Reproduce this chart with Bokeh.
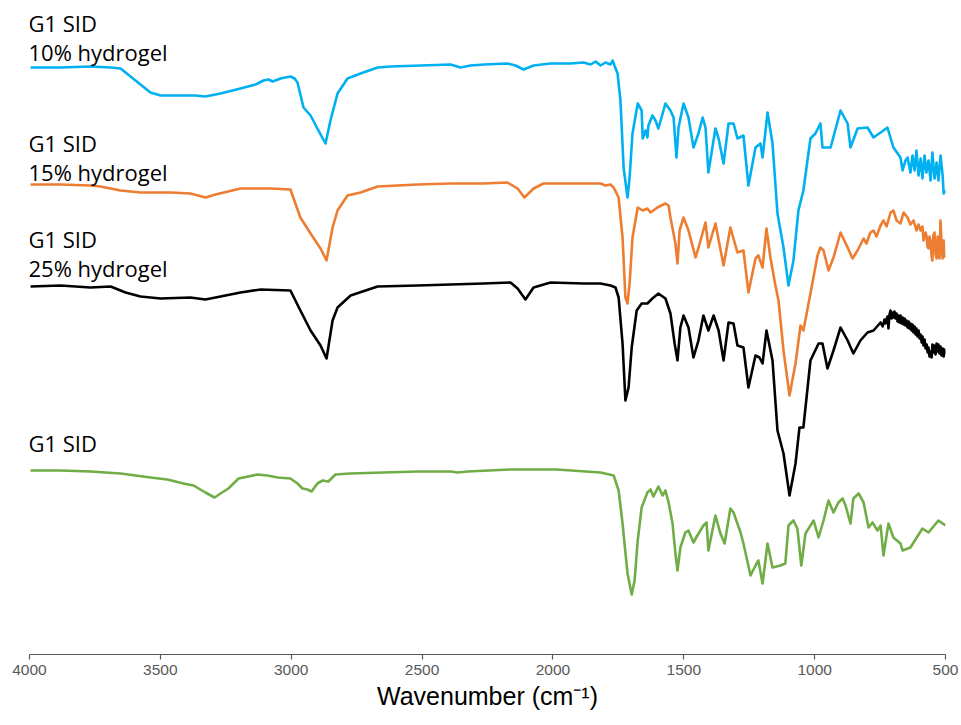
from bokeh.plotting import figure
from bokeh.models import Range1d, FixedTicker, Label
from bokeh.embed import file_html
from bokeh.resources import INLINE

# ---- data (wavenumber in cm-1, stacked intensity in arbitrary units) ----
wn_10 = [3996, 3882, 3767, 3690, 3652, 3595, 3538, 3499, 3423, 3366, 3328, 3270, 3194, 3136, 3106, 3087, 3071, 3041,
         3003, 2987, 2976, 2953, 2926, 2896, 2869, 2850, 2823, 2785, 2735, 2670, 2621, 2391, 2353, 2315, 2265, 2174,
         2143, 2112, 2074, 2009, 1933, 1883, 1856, 1837, 1818, 1799, 1780, 1772, 1765, 1753, 1742, 1730, 1715, 1707,
         1696, 1676, 1661, 1657, 1646, 1639, 1635, 1620, 1608, 1597, 1570, 1551, 1539, 1528, 1520, 1501, 1482, 1463,
         1444, 1428, 1417, 1406, 1379, 1367, 1348, 1329, 1310, 1295, 1272, 1253, 1226, 1207, 1199, 1180, 1161, 1142,
         1119, 1100, 1081, 1062, 1043, 1016, 997, 978, 970, 951, 939, 901, 874, 863, 836, 798, 775, 737, 722, 699,
         672, 664, 653, 645, 634, 626, 618, 611, 603, 595, 588, 580, 573, 565, 557, 550, 542, 534, 527, 519, 511,
         507, 500]
int_10 = [587, 587, 588, 587, 586, 574, 562, 559, 559, 559, 558, 561, 566, 570, 574, 575, 573, 576,
          578, 576, 572, 547, 539, 524, 511, 534, 561, 576, 581, 587, 588, 590, 587, 589, 590, 591,
          589, 585, 589, 591, 591, 592, 590, 593, 589, 592, 590, 594, 589, 581, 554, 487, 457, 477,
          521, 551, 544, 516, 524, 517, 529, 539, 534, 526, 551, 544, 537, 497, 527, 551, 537, 507,
          521, 537, 527, 482, 526, 516, 491, 531, 531, 516, 519, 469, 507, 511, 497, 542, 511, 441,
          407, 369, 394, 444, 464, 516, 521, 531, 507, 507, 507, 544, 531, 507, 526, 527, 517, 524, 527, 507,
          497, 484, 494, 497, 482, 499, 484, 504, 479, 496, 476, 499, 482, 494, 474, 502, 476, 492, 474, 499, 479,
          461, 464]

wn_15 = [3996, 3882, 3767, 3729, 3652, 3576, 3461, 3385, 3328, 3289, 3194, 3079, 3003, 2965, 2926, 2888, 2865, 2842,
         2823, 2785, 2735, 2670, 2517, 2391, 2265, 2174, 2135, 2109, 2074, 2036, 1944, 1818, 1799, 1780, 1768, 1749,
         1734, 1723, 1715, 1707, 1696, 1676, 1657, 1639, 1627, 1601, 1570, 1558, 1551, 1532, 1524, 1516, 1501, 1482,
         1455, 1436, 1417, 1406, 1379, 1348, 1322, 1295, 1272, 1253, 1226, 1215, 1199, 1184, 1169, 1150, 1138, 1119,
         1096, 1073, 1054, 1043, 1016, 989, 978, 966, 947, 928, 901, 874, 855, 836, 813, 802, 787, 775, 764, 748,
         737, 725, 710, 699, 687, 672, 660, 645, 634, 622, 611, 603, 595, 588, 584, 576, 572, 569, 565, 561, 557,
         553, 550, 546, 542, 538, 534, 530, 527, 523, 519, 515, 511, 507, 504, 500]
int_15 = [470, 470, 469, 468, 464, 462, 462, 461, 457, 460, 466, 466, 465, 437, 421, 406, 394, 427,
          444, 459, 462, 468, 470, 471, 471, 472, 466, 457, 466, 471, 471, 471, 469, 470, 467, 457,
          417, 357, 351, 371, 417, 447, 444, 446, 442, 447, 451, 449, 437, 411, 391, 424, 437, 424,
          397, 414, 432, 407, 431, 389, 427, 402, 404, 362, 396, 399, 387, 426, 397, 369, 354, 304,
          259, 291, 329, 324, 361, 399, 407, 404, 384, 397, 422, 407, 396, 404, 416, 411, 422, 424, 418, 429,
          434, 428, 442, 444, 434, 431, 442, 437, 430, 434, 424, 430, 424, 428, 414, 422, 418, 408, 406, 418, 414,
          398, 394, 420, 422, 400, 396, 418, 409, 396, 434, 410, 396, 414, 399, 397]

wn_25 = [3996, 3882, 3767, 3690, 3633, 3576, 3499, 3385, 3328, 3270, 3194, 3117, 3003, 2965, 2926, 2888, 2865, 2842,
         2823, 2773, 2670, 2517, 2391, 2265, 2162, 2135, 2105, 2074, 2009, 1883, 1818, 1780, 1761, 1749, 1734, 1723,
         1711, 1699, 1680, 1661, 1639, 1620, 1597, 1570, 1551, 1535, 1524, 1513, 1501, 1482, 1463, 1444, 1425, 1406,
         1386, 1367, 1348, 1329, 1310, 1295, 1272, 1253, 1226, 1211, 1199, 1184, 1161, 1142, 1119, 1096, 1073, 1058,
         1043, 1016, 985, 970, 951, 928, 901, 874, 852, 825, 798, 775, 748, 740, 733, 729, 722, 718, 714, 710, 706,
         702, 699, 695, 691, 687, 683, 680, 676, 672, 668, 664, 660, 656, 653, 649, 645, 641, 638, 634, 630, 626,
         622, 618, 614, 611, 607, 603, 599, 595, 591, 588, 584, 580, 576, 572, 568, 565, 561, 557, 553, 550, 546,
         542, 538, 534, 530, 527, 523, 519, 515, 511, 507, 504, 500]
int_25 = [368, 369, 367, 368, 362, 358, 356, 357, 355, 358, 362, 365, 364, 344, 324, 309, 296, 334,
          347, 359, 368, 369, 370, 371, 372, 366, 355, 367, 372, 371, 371, 369, 367, 357, 311, 254,
          267, 307, 344, 351, 351, 356, 361, 356, 341, 311, 294, 327, 339, 327, 297, 314, 339, 324,
          339, 324, 294, 332, 331, 309, 307, 267, 299, 297, 291, 324, 294, 224, 201, 159, 191, 227,
          227, 294, 311, 311, 286, 304, 327, 314, 301, 314, 322, 324, 332, 328, 335, 331, 338, 326, 340, 344, 336,
          342, 337, 343, 336, 341, 333, 339, 332, 339, 331, 337, 330, 336, 329, 334, 327, 333, 326, 331, 324, 330,
          322, 328, 320, 326, 318, 324, 316, 320, 312, 318, 309, 315, 306, 310, 302, 307, 298, 303, 297, 310, 302,
          309, 300, 311, 303, 310, 301, 308, 299, 306, 298, 305, 300]

wn_sid = [3996, 3882, 3767, 3652, 3538, 3473, 3412, 3373, 3328, 3293, 3270, 3240, 3201, 3129, 3091, 3052, 3003, 2976,
          2957, 2938, 2922, 2900, 2880, 2858, 2831, 2773, 2647, 2517, 2391, 2365, 2326, 2162, 1986, 1818, 1768, 1749,
          1734, 1715, 1699, 1688, 1676, 1661, 1639, 1627, 1616, 1597, 1581, 1570, 1558, 1543, 1532, 1524, 1513, 1494,
          1482, 1463, 1448, 1425, 1413, 1406, 1379, 1360, 1344, 1322, 1310, 1283, 1272, 1245, 1226, 1215, 1199, 1180,
          1161, 1131, 1112, 1100, 1081, 1066, 1051, 1035, 1004, 985, 966, 947, 928, 909, 893, 882, 863, 852, 832,
          813, 794, 779, 760, 748, 737, 718, 699, 672, 664, 634, 588, 565, 527, 500]
int_sid = [184, 184, 183, 181, 177, 175, 171, 169, 162, 157, 161, 166, 176, 180, 179, 177, 176, 171,
           166, 165, 163, 171, 174, 173, 180, 181, 182, 183, 183, 182, 183, 185, 185, 182, 179, 164,
           131, 81, 60, 74, 114, 147, 162, 165, 158, 168, 159, 164, 152, 131, 101, 84, 107, 122,
           124, 112, 119, 129, 132, 104, 139, 121, 111, 146, 142, 122, 111, 79, 89, 94, 71, 111,
           87, 89, 91, 129, 134, 126, 89, 121, 134, 117, 134, 154, 142, 152, 156, 149, 131, 156, 161,
           152, 127, 132, 124, 129, 99, 131, 117, 111, 104, 107, 126, 122, 134, 129]

series_names = ["G1 SID\n10% hydrogel", "G1 SID\n15% hydrogel", "G1 SID\n25% hydrogel", "G1 SID"]
label_levels = [617, 497, 401, 212]   # label centres in the same arbitrary units
x_ticks = [4000, 3500, 3000, 2500, 2000, 1500, 1000, 500]

colors = ["#00B0F0", "#ED7D31", "#000000", "#70AD47"]

p = figure(width=961, height=725, output_backend="svg", toolbar_location=None,
           x_range=Range1d(4000, 500), y_range=Range1d(0, 654),
           min_border_left=29, min_border_right=16, min_border_top=0, min_border_bottom=71)
p.outline_line_color = None
p.xgrid.visible = False
p.ygrid.visible = False
p.yaxis.visible = False
p.background_fill_color = "white"
p.border_fill_color = "white"

for xs, ys, c in zip([wn_10, wn_15, wn_25, wn_sid], [int_10, int_15, int_25, int_sid], colors):
    p.line(xs, ys, line_color=c, line_width=2.6, line_join="round")

for name, lvl in zip(series_names, label_levels):
    lines = name.split("\n")
    n = len(lines)
    for i, t in enumerate(lines):
        p.add_layout(Label(x=4000, y=lvl, y_offset=(n - 1) * 14.5 - i * 29, text=t,
                           text_font="Open Sans", text_font_size="22px", text_color="#000000",
                           text_baseline="middle", text_align="left", x_offset=-1))

ax = p.xaxis[0]
ax.ticker = FixedTicker(ticks=x_ticks)
ax.axis_line_color = "#595959"
ax.axis_line_width = 1.2
ax.major_tick_line_color = "#595959"
ax.major_tick_line_width = 1.2
ax.major_tick_in = 0
ax.major_tick_out = 5
ax.minor_tick_line_color = None
ax.major_label_text_font = "Liberation Sans"
ax.major_label_text_font_size = "15.5px"
ax.major_label_text_color = "#595959"
ax.major_label_standoff = 5
ax.axis_label = "Wavenumber (cm⁻¹)"
ax.axis_label_text_font = "Liberation Sans"
ax.axis_label_text_font_size = "25px"
ax.axis_label_text_font_style = "normal"
ax.axis_label_text_color = "#000000"
ax.axis_label_standoff = 4

open("out.html", "w").write(file_html(p, INLINE))
